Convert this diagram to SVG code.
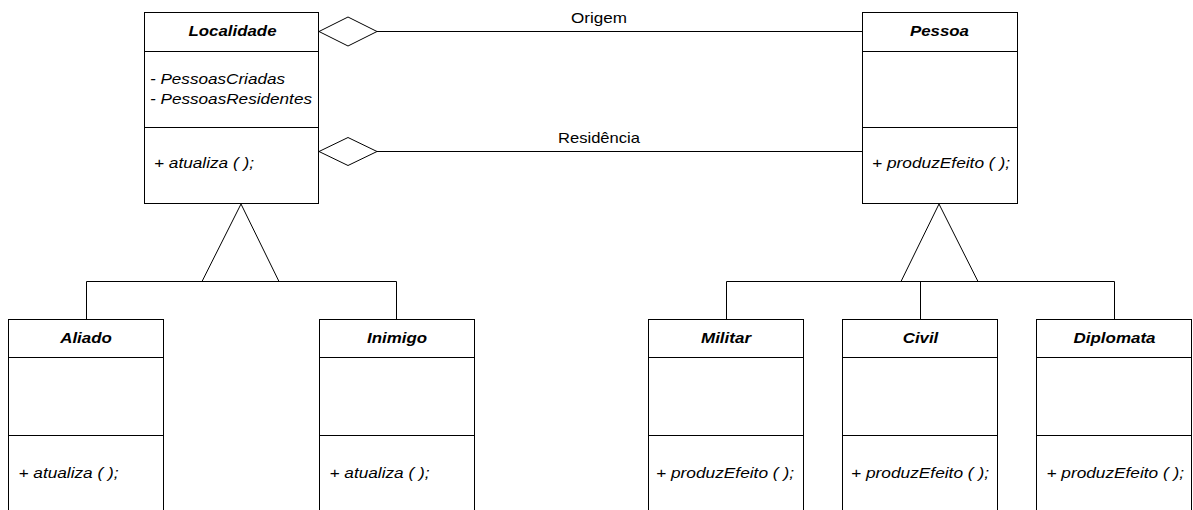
<svg xmlns="http://www.w3.org/2000/svg" width="1193" height="510" viewBox="0 0 1193 510">
<style>
.box{fill:#fff;stroke:#000;stroke-width:1}
.div{stroke:#000;stroke-width:1}
.ln{stroke:#000;stroke-width:1;fill:none}
.sh{fill:#fff;stroke:#000;stroke-width:1}
.hd{font-family:"Liberation Sans",Arial,sans-serif;font-size:15px;font-weight:bold;font-style:italic;fill:#000;text-anchor:middle}
.mb{font-family:"Liberation Sans",Arial,sans-serif;font-size:15px;font-style:italic;fill:#000}
.lb{font-family:"Liberation Sans",Arial,sans-serif;font-size:15px;fill:#000;text-anchor:middle}
</style>
<rect width="1193" height="510" fill="#fff"/>
<g id="connectors">
<line class="ln" x1="377" y1="31.5" x2="862" y2="31.5"/>
<polygon class="sh" points="319,31.5 348,17 377,31.5 348,46"/>
<text class="lb" x="599" y="23.3" textLength="56" lengthAdjust="spacingAndGlyphs">Origem</text>
<line class="ln" x1="377" y1="151.5" x2="862" y2="151.5"/>
<polygon class="sh" points="319,151.5 348,137.5 377,151.5 348,165.5"/>
<text class="lb" x="599" y="143.3" textLength="82" lengthAdjust="spacingAndGlyphs">Residência</text>
<polygon class="sh" points="241,204 202,281.5 279,281.5"/>
<polyline class="ln" points="86.5,319.5 86.5,281.5 396.5,281.5 396.5,319.5"/>
<polygon class="sh" points="939,204 901,281.5 978,281.5"/>
<polyline class="ln" points="726.5,319.5 726.5,281.5 1114.5,281.5 1114.5,319.5"/>
<line class="ln" x1="920.5" y1="281.5" x2="920.5" y2="319.5"/>
</g>
<g id="Localidade">
<rect class="box" x="144.5" y="12.5" width="174" height="191"/>
<line class="div" x1="144.5" y1="51.5" x2="318.5" y2="51.5"/>
<line class="div" x1="144.5" y1="127.5" x2="318.5" y2="127.5"/>
<text class="hd" x="232.5" y="36" textLength="88" lengthAdjust="spacingAndGlyphs">Localidade</text>
<text class="mb" x="150" y="84" textLength="135" lengthAdjust="spacingAndGlyphs">- PessoasCriadas</text>
<text class="mb" x="150" y="104" textLength="162" lengthAdjust="spacingAndGlyphs">- PessoasResidentes</text>
<text class="mb" x="154" y="168" textLength="100" lengthAdjust="spacingAndGlyphs">+ atualiza ( );</text>
</g>
<g id="Pessoa">
<rect class="box" x="862.5" y="12.5" width="155" height="191"/>
<line class="div" x1="862.5" y1="51.5" x2="1017.5" y2="51.5"/>
<line class="div" x1="862.5" y1="127.5" x2="1017.5" y2="127.5"/>
<text class="hd" x="939.5" y="36" textLength="59" lengthAdjust="spacingAndGlyphs">Pessoa</text>
<text class="mb" x="872" y="168" textLength="138" lengthAdjust="spacingAndGlyphs">+ produzEfeito ( );</text>
</g>
<g id="Aliado">
<rect class="box" x="8.5" y="319.5" width="155" height="200"/>
<line class="div" x1="8.5" y1="357.5" x2="163.5" y2="357.5"/>
<line class="div" x1="8.5" y1="435.5" x2="163.5" y2="435.5"/>
<text class="hd" x="86" y="343.3" textLength="51.6" lengthAdjust="spacingAndGlyphs">Aliado</text>
<text class="mb" x="18.5" y="478" textLength="100" lengthAdjust="spacingAndGlyphs">+ atualiza ( );</text>
</g>
<g id="Inimigo">
<rect class="box" x="319.5" y="319.5" width="155" height="200"/>
<line class="div" x1="319.5" y1="357.5" x2="474.5" y2="357.5"/>
<line class="div" x1="319.5" y1="435.5" x2="474.5" y2="435.5"/>
<text class="hd" x="397" y="343.3" textLength="60" lengthAdjust="spacingAndGlyphs">Inimigo</text>
<text class="mb" x="329.5" y="478" textLength="100" lengthAdjust="spacingAndGlyphs">+ atualiza ( );</text>
</g>
<g id="Militar">
<rect class="box" x="648.5" y="319.5" width="155" height="200"/>
<line class="div" x1="648.5" y1="357.5" x2="803.5" y2="357.5"/>
<line class="div" x1="648.5" y1="435.5" x2="803.5" y2="435.5"/>
<text class="hd" x="726" y="343.3" textLength="50" lengthAdjust="spacingAndGlyphs">Militar</text>
<text class="mb" x="656" y="478" textLength="138" lengthAdjust="spacingAndGlyphs">+ produzEfeito ( );</text>
</g>
<g id="Civil">
<rect class="box" x="842.5" y="319.5" width="155" height="200"/>
<line class="div" x1="842.5" y1="357.5" x2="997.5" y2="357.5"/>
<line class="div" x1="842.5" y1="435.5" x2="997.5" y2="435.5"/>
<text class="hd" x="920.5" y="343.3" textLength="35.5" lengthAdjust="spacingAndGlyphs">Civil</text>
<text class="mb" x="851" y="478" textLength="138" lengthAdjust="spacingAndGlyphs">+ produzEfeito ( );</text>
</g>
<g id="Diplomata">
<rect class="box" x="1036.5" y="319.5" width="155" height="200"/>
<line class="div" x1="1036.5" y1="357.5" x2="1191.5" y2="357.5"/>
<line class="div" x1="1036.5" y1="435.5" x2="1191.5" y2="435.5"/>
<text class="hd" x="1114.5" y="343.3" textLength="82" lengthAdjust="spacingAndGlyphs">Diplomata</text>
<text class="mb" x="1046.5" y="478" textLength="137.5" lengthAdjust="spacingAndGlyphs">+ produzEfeito ( );</text>
</g>
</svg>
